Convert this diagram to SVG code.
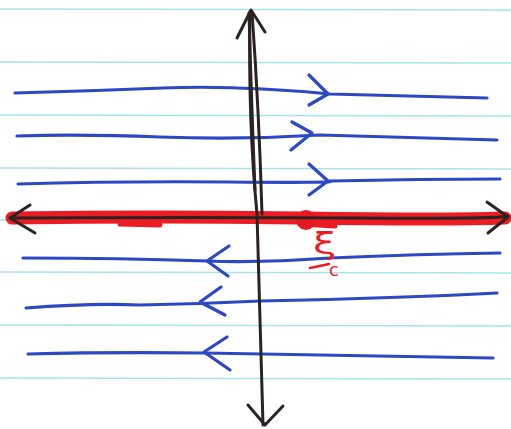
<svg xmlns="http://www.w3.org/2000/svg" width="511" height="429" viewBox="0 0 511 429">
<style>
.rule{stroke:#a6e3ec;stroke-width:1.6;fill:none}
.blue{stroke:#2c48c4;stroke-width:3.2;fill:none;stroke-linecap:round;stroke-linejoin:round}
.ink{stroke:#2b2222;stroke-width:3;fill:none;stroke-linecap:round;stroke-linejoin:round}
.red{stroke:#ec1c24;fill:none;stroke-linecap:round}
.lbl{fill:#ec1c24;font-family:"DejaVu Sans","Liberation Sans",sans-serif}
</style>
<rect width="511" height="429" fill="#ffffff"/>
<g id="paper">
<path class="rule" d="M0 9 L511 10"/>
<path class="rule" d="M0 62 L511 63"/>
<path class="rule" d="M0 115 L511 116"/>
<path class="rule" d="M0 168 L511 169"/>
<path class="rule" d="M0 220 L511 221"/>
<path class="rule" d="M0 272 L511 273"/>
<path class="rule" d="M0 325 L511 326"/>
<path class="rule" d="M0 378 L511 379"/>
</g>
<g id="red-axis">
<path class="red" stroke-width="13" d="M12 218 Q150 216 300 218 T505 218"/>
<path class="red" stroke-width="5" d="M120 224 L160 225 M300 224 L335 226"/>
<circle cx="306" cy="220" r="10" fill="#e81820"/>
</g>
<g id="connectors">
<g id="flow-right">
<path class="blue" d="M15 93 Q90 91 163 88 T330 94 Q420 96 487 98"/>
<path class="blue" d="M309 75 L328 94 L309 105"/>
<path class="blue" d="M17 136 Q80 134 160 137 T320 135 Q420 138 497 140"/>
<path class="blue" d="M292 122 L312 133 L291 150"/>
<path class="blue" d="M18 184 Q120 181 230 182 T330 181 Q420 179 500 179"/>
<path class="blue" d="M309 164 L328 181 L309 195"/>
</g>
<g id="flow-left">
<path class="blue" d="M23 258 Q120 258 207 261 Q260 263 330 258 Q420 254 500 253"/>
<path class="blue" d="M229 246 L207 261 L228 276"/>
<path class="blue" d="M26 308 Q90 303 140 305 Q200 304 260 301 Q400 298 497 293"/>
<path class="blue" d="M221 287 L200 302 L225 315"/>
<path class="blue" d="M28 354 Q110 352 204 353 Q330 355 493 358"/>
<path class="blue" d="M227 337 L204 352 L230 370"/>
</g>
<g id="x-axis">
<path class="ink" stroke-width="2.4" d="M10 218 Q200 217 350 218 T508 216"/>
<path class="ink" d="M30 205 L10 218 L35 233"/>
<path class="ink" d="M487 202 L508 217 L488 233"/>
</g>
<g id="y-axis">
<path class="ink" d="M250 12 Q248 120 257 214 L263 425"/>
<path class="ink" stroke-width="2.4" d="M252 12 Q259 110 262 214"/>
<path class="ink" stroke-width="2" d="M249 13 Q251 90 255 190"/>
<path class="ink" d="M237 38 L251 10 L265 32"/>
<path class="ink" d="M248 405 L265 425 L283 406"/>
</g>
</g>
<g id="label">
<text class="lbl" transform="translate(313,254) scale(1.4,1)" font-size="30">ξ</text>
<text class="lbl" x="329" y="276" font-size="18">c</text>
<path class="red" stroke-width="2.6" d="M310 268 L329 264"/>
</g>
</svg>
